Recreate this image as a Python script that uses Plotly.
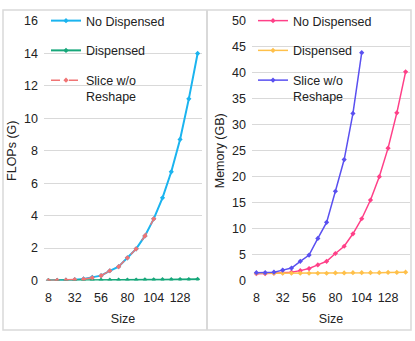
import plotly.graph_objects as go

# x categories (matrix size)
sizes = [8, 16, 24, 32, 40, 48, 56, 64, 72, 80, 88, 96, 104, 112, 120, 128, 136, 144]
size_ticks = [8, 32, 56, 80, 104, 128]

# FLOPs (G)
flops_no_disp = [0.0, 0.01, 0.02, 0.05, 0.1, 0.2, 0.3, 0.6, 0.85, 1.4, 1.95, 2.75, 3.8, 5.1, 6.7, 8.7, 11.2, 14.0]
flops_disp = [0.0, 0.0, 0.01, 0.01, 0.01, 0.02, 0.02, 0.02, 0.03, 0.03, 0.03, 0.04, 0.04, 0.05, 0.05, 0.06, 0.06, 0.07]
flops_slice = [0.0, 0.01, 0.02, 0.05, 0.08, 0.17, 0.3, 0.6, 0.85, 1.4, 1.95, 2.75, 3.8]

# Memory (GB)
mem_no_disp = [1.3, 1.3, 1.4, 1.5, 1.6, 1.9, 2.3, 3.0, 3.7, 5.2, 6.6, 9.0, 11.9, 15.5, 20.0, 25.5, 32.3, 40.2]
mem_disp = [1.4, 1.4, 1.4, 1.4, 1.4, 1.4, 1.4, 1.4, 1.4, 1.45, 1.45, 1.5, 1.5, 1.5, 1.5, 1.55, 1.55, 1.6]
mem_slice = [1.5, 1.5, 1.6, 2.0, 2.4, 3.7, 4.9, 8.1, 11.2, 17.2, 23.3, 32.2, 43.9]

W, H = 415, 341
FONT = "Liberation Sans, Arial, sans-serif"
GRID = "#d9d9d9"
TXT = "#222"
FS = 12.5


def px_x(p):
    return p / W


def px_y(p):
    return 1 - p / H


fig = go.Figure()

# left panel
fig.add_trace(go.Scatter(x=sizes, y=flops_no_disp, name="No Dispensed", mode="lines+markers",
                         line=dict(color="#1bb4ef", width=2), marker=dict(size=4, symbol="diamond"),
                         xaxis="x", yaxis="y", legend="legend", legendgroup="a"))
fig.add_trace(go.Scatter(x=sizes, y=flops_disp, name="Dispensed", mode="lines+markers",
                         line=dict(color="#16a77a", width=2), marker=dict(size=4, symbol="diamond"),
                         xaxis="x", yaxis="y", legend="legend", legendgroup="b"))
fig.add_trace(go.Scatter(x=sizes[:len(flops_slice)], y=flops_slice, name="Slice w/o<br>Reshape", mode="lines+markers",
                         line=dict(color="#f07474", width=1.5, dash="dash"), marker=dict(size=4, symbol="diamond"),
                         xaxis="x", yaxis="y", legend="legend", legendgroup="c"))

# right panel
fig.add_trace(go.Scatter(x=sizes, y=mem_no_disp, name="No Dispensed", mode="lines+markers",
                         line=dict(color="#ff4088", width=1.5), marker=dict(size=4, symbol="diamond"),
                         xaxis="x2", yaxis="y2", legend="legend2", legendgroup="d"))
fig.add_trace(go.Scatter(x=sizes, y=mem_disp, name="Dispensed", mode="lines+markers",
                         line=dict(color="#ffc04a", width=1.5), marker=dict(size=4, symbol="diamond"),
                         xaxis="x2", yaxis="y2", legend="legend2", legendgroup="e"))
fig.add_trace(go.Scatter(x=sizes[:len(mem_slice)], y=mem_slice, name="Slice w/o<br>Reshape", mode="lines+markers",
                         line=dict(color="#5a50f0", width=1.5), marker=dict(size=4, symbol="diamond"),
                         xaxis="x2", yaxis="y2", legend="legend2", legendgroup="f"))

xcommon = dict(range=[4, 148], tickmode="array", tickvals=size_ticks, showgrid=False, zeroline=False,
               showline=False, ticks="", ticklabelstandoff=8, automargin=False,
               tickfont=dict(family=FONT, size=FS, color=TXT),
               title=dict(text="Size", font=dict(family=FONT, size=FS, color=TXT), standoff=10))
ycommon = dict(showgrid=True, gridcolor=GRID, gridwidth=1, zeroline=False, showline=False, ticks="",
               ticklabelstandoff=5, automargin=False, tickfont=dict(family=FONT, size=FS, color=TXT))

ydom = [px_y(280.5), px_y(21)]
leg = dict(yanchor="top", xanchor="left", bgcolor="rgba(0,0,0,0)",
           font=dict(family=FONT, size=FS, color=TXT), traceorder="grouped",
           tracegroupgap=10.5, valign="top", itemwidth=30)
fig.update_layout(
    width=W, height=H,
    margin=dict(l=0, r=0, t=0, b=0),
    paper_bgcolor="white", plot_bgcolor="white",
    showlegend=True,
    xaxis=dict(domain=[px_x(44), px_x(202)], anchor="y", **xcommon),
    yaxis=dict(domain=ydom, anchor="x", range=[0, 16], dtick=2,
               title=dict(text="FLOPs (G)", font=dict(family=FONT, size=FS, color=TXT), standoff=4),
               **ycommon),
    xaxis2=dict(domain=[px_x(252), px_x(410)], anchor="y2", **xcommon),
    yaxis2=dict(domain=ydom, anchor="x2", range=[0, 50], dtick=5,
                title=dict(text="Memory (GB)", font=dict(family=FONT, size=FS, color=TXT), standoff=4),
                **ycommon),
    legend=dict(x=px_x(46), y=px_y(6), **leg),
    legend2=dict(x=px_x(253), y=px_y(6), **leg),
    shapes=[
        dict(type="rect", xref="paper", yref="paper", x0=px_x(3), x1=px_x(411), y0=px_y(330), y1=px_y(10),
             line=dict(color="#d9d9d9", width=1.5), layer="below"),
        dict(type="line", xref="paper", yref="paper", x0=px_x(207), x1=px_x(207), y0=px_y(330), y1=px_y(10),
             line=dict(color="#d9d9d9", width=2), layer="below"),
    ],
)

fig.write_html("out.html", config={"displayModeBar": False},
               post_script="document.body.style.margin='0';")
